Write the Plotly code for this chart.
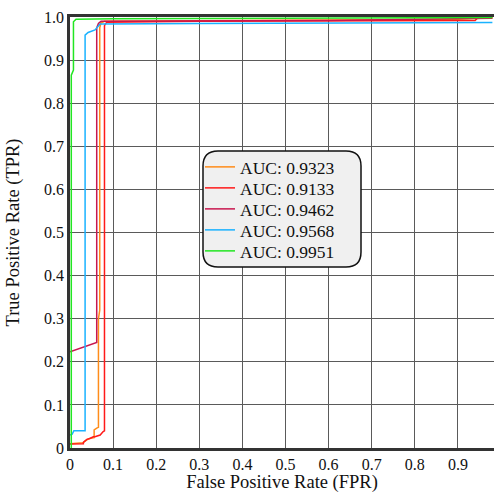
import plotly.graph_objects as go

# ---- data ----
labels = ["AUC: 0.9323", "AUC: 0.9133", "AUC: 0.9462", "AUC: 0.9568", "AUC: 0.9951"]
colors = ["#FF8C1A", "#FF1A1A", "#C8174F", "#1AB2FF", "#22E622"]

fpr_orange = [0, 0.02, 0.03, 0.039, 0.045, 0.056, 0.056, 0.062, 0.066, 0.066, 0.069, 0.069, 0.072, 0.08, 0.3, 0.6, 0.9, 0.98]
tpr_orange = [0.010, 0.011, 0.012, 0.019, 0.022, 0.024, 0.042, 0.046, 0.048, 0.300, 0.320, 0.975, 0.986, 0.990, 0.991, 0.993, 0.995, 0.998]

fpr_red = [0, 0.031, 0.031, 0.039, 0.046, 0.054, 0.058, 0.068, 0.070, 0.077, 0.080, 0.080, 0.085, 0.3, 0.6, 0.94, 0.945, 0.98]
tpr_red = [0.009, 0.010, 0.013, 0.020, 0.022, 0.026, 0.026, 0.030, 0.030, 0.038, 0.040, 0.980, 0.988, 0.990, 0.991, 0.992, 0.997, 0.998]

fpr_crimson = [0, 0.062, 0.062, 0.066, 0.072, 0.3, 0.6, 0.98]
tpr_crimson = [0.223, 0.245, 0.975, 0.985, 0.990, 0.991, 0.992, 0.997]

fpr_blue = [0, 0.005, 0.009, 0.035, 0.035, 0.042, 0.058, 0.066, 0.070, 0.3, 0.6, 0.98]
tpr_blue = [0.030, 0.032, 0.040, 0.040, 0.958, 0.964, 0.970, 0.981, 0.984, 0.985, 0.986, 0.987]

fpr_green = [0.003, 0.003, 0.008, 0.008, 0.014, 0.1, 0.5, 0.98]
tpr_green = [0.0, 0.865, 0.877, 0.989, 0.995, 0.996, 0.997, 0.999]

x_tickvals = [0, 0.1, 0.2, 0.3, 0.4, 0.5, 0.6, 0.7, 0.8, 0.9]
x_ticktext = ["0", "0.1", "0.2", "0.3", "0.4", "0.5", "0.6", "0.7", "0.8", "0.9"]
y_tickvals = [0, 0.1, 0.2, 0.3, 0.4, 0.5, 0.6, 0.7, 0.8, 0.9, 1.0]
y_ticktext = ["0", "0.1", "0.2", "0.3", "0.4", "0.5", "0.6", "0.7", "0.8", "0.9", "1.0"]

series = [
    (fpr_orange, tpr_orange),
    (fpr_red, tpr_red),
    (fpr_crimson, tpr_crimson),
    (fpr_blue, tpr_blue),
    (fpr_green, tpr_green),
]

FONT = "Liberation Serif, Times New Roman, serif"

# geometry helpers (plot area: x 70..494, y 17..448)
L, R, T, B = 70, 494, 17, 448
def px(x):
    return (x - L) / (R - L)
def py(y):
    return (B - y) / (B - T)

fig = go.Figure()
legend_layouts = {}
for i, ((fx, ty), name, col) in enumerate(zip(series, labels, colors)):
    key = "legend" if i == 0 else f"legend{i+1}"
    fig.add_trace(go.Scatter(x=fx, y=ty, mode="lines", name=name, legend=key,
                             line=dict(color=col, width=1.5)))
    legend_layouts[key] = dict(
        x=px(200), y=py(167 + i * 21.0), xanchor="left", yanchor="middle",
        bgcolor="rgba(0,0,0,0)", borderwidth=0,
        font=dict(family=FONT, size=17.5, color="#111111"))

# rounded legend box
x0, x1, y0, y1, r = 203, 361, 151, 267, 15
rx, ry = r / (R - L), r / (B - T)
X0, X1, Y0, Y1 = px(x0), px(x1), py(y1), py(y0)
path = (f"M {X0+rx},{Y1} L {X1-rx},{Y1} Q {X1},{Y1} {X1},{Y1-ry} "
        f"L {X1},{Y0+ry} Q {X1},{Y0} {X1-rx},{Y0} L {X0+rx},{Y0} "
        f"Q {X0},{Y0} {X0},{Y0+ry} L {X0},{Y1-ry} Q {X0},{Y1} {X0+rx},{Y1} Z")
fig.add_shape(type="path", path=path, xref="paper", yref="paper",
              fillcolor="#F0F0F0", line=dict(color="#111111", width=1.5), layer="above")

tickfont = dict(family=FONT, size=16, color="#111111")
titlefont = dict(family=FONT, size=18.5, color="#111111")

fig.update_layout(
    width=494, height=493,
    margin=dict(l=70, r=0, t=17, b=45),
    paper_bgcolor="white", plot_bgcolor="white",
    font=dict(family=FONT, size=16, color="#111111"),
    showlegend=True,
    xaxis=dict(range=[0, (R - L) / (B - T)], tickvals=x_tickvals, ticktext=x_ticktext,
               automargin=False,
               showgrid=True, gridcolor="#5A5A5A", gridwidth=1,
               showline=True, linecolor="#333333", linewidth=2.5, mirror=True,
               zeroline=False, ticks="", tickfont=tickfont,
               title=dict(text="False Positive Rate (FPR)", font=titlefont, standoff=12)),
    yaxis=dict(range=[0, 1], tickvals=y_tickvals, ticktext=y_ticktext,
               automargin=False,
               showgrid=True, gridcolor="#5A5A5A", gridwidth=1,
               showline=True, linecolor="#333333", linewidth=2.5, mirror=False,
               zeroline=False, ticks="", tickfont=tickfont,
               title=dict(text="True Positive Rate (TPR)", font=titlefont, standoff=20)),
    **legend_layouts,
)

fig.write_html("out.html", config={"displayModeBar": False},
               post_script="document.body.style.margin='0px';")
